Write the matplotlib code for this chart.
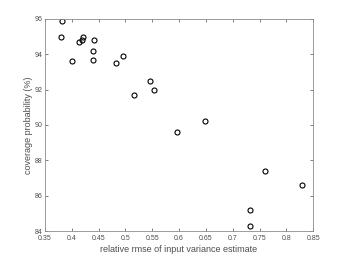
import numpy as np
from matplotlib import pyplot as plt
plt.rcParams["font.family"] = ["Liberation Sans", "DejaVu Sans"]

# relative rmse vs coverage probability
rmse = [0.382, 0.380, 0.420, 0.419, 0.414, 0.441, 0.440, 0.400, 0.440, 0.482,
        0.495, 0.546, 0.554, 0.516, 0.597, 0.648, 0.761, 0.829, 0.732, 0.733]
coverage = [95.9, 95.0, 95.0, 94.8, 94.7, 94.8, 94.2, 93.6, 93.7, 93.5,
            93.9, 92.5, 92.0, 91.7, 89.6, 90.2, 87.4, 86.6, 85.2, 84.3]

xticks = [0.35, 0.4, 0.45, 0.5, 0.55, 0.6, 0.65, 0.7, 0.75, 0.8, 0.85]
xticklabels = ["0.35", "0.4", "0.45", "0.5", "0.55", "0.6", "0.65", "0.7", "0.75", "0.8", "0.85"]
yticks = [84, 86, 88, 90, 92, 94, 96]

txt = "#4d4d4d"
fig = plt.figure(figsize=(3.46, 2.6), dpi=100)
ax = fig.add_axes([0.130, 0.1115, 0.775, 0.8155])

ax.plot(rmse, coverage, "o", markerfacecolor="none", markeredgecolor="black",
        markersize=3.6, markeredgewidth=0.8)

ax.set_xlim(0.35, 0.85)
ax.set_ylim(84, 96)
ax.set_xticks(xticks)
ax.set_xticklabels(xticklabels)
ax.set_yticks(yticks)
ax.tick_params(direction="in", length=2.5, width=0.5, labelsize=5, colors=txt,
               top=True, right=True, pad=2)
ax.tick_params(axis="x", pad=3)
for s in ax.spines.values():
    s.set_color("#8c8c8c")
    s.set_linewidth(0.6)

ax.set_xlabel("relative rmse of input variance estimate", fontsize=6.5, color=txt, labelpad=2)
ax.set_ylabel("coverage probability (%)", fontsize=6.5, color=txt, labelpad=1)

fig.savefig("out.png", dpi=100)
